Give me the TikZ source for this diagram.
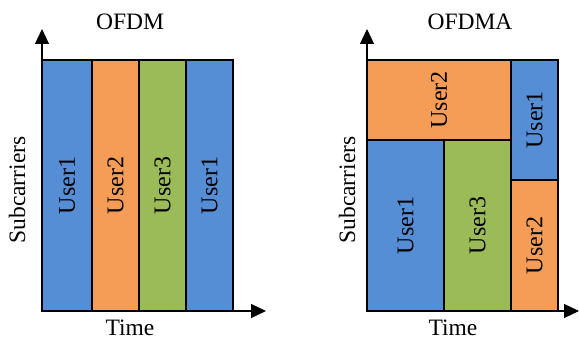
\documentclass[tikz,border=0pt]{standalone}
\usepackage{fontspec}
\setmainfont{Liberation Serif}
\usetikzlibrary{arrows.meta}
\definecolor{ublue}{HTML}{558ED5}
\definecolor{uorange}{HTML}{F59D56}
\definecolor{ugreen}{HTML}{9BBB59}
\tikzset{
  cell/.style={draw=black, line width=1.6pt, inner sep=0pt, font=\fontsize{24}{28}\selectfont},
  axis/.style={line width=1.2pt, -{Triangle[length=15pt,width=14pt]}},
  lbl/.style={inner sep=0pt, font=\fontsize{23.5}{27}\selectfont}
}
\begin{document}
\begin{tikzpicture}[x=1pt,y=1pt]
\useasboundingbox (0,0) rectangle (579,340);
% ---- OFDM ----
\coordinate (o1) at (42,29);
\coordinate (y1) at (42,311);
\coordinate (x1) at (266,29);
\node[cell, fill=ublue, minimum width=50pt, minimum height=251pt] (a1) at (67,154.5) {\rotatebox{90}{User1}};
\node[cell, fill=uorange, minimum width=47pt, minimum height=251pt] (a2) at (115.5,154.5) {\rotatebox{90}{User2}};
\node[cell, fill=ugreen, minimum width=47pt, minimum height=251pt] (a3) at (162.5,154.5) {\rotatebox{90}{User3}};
\node[cell, fill=ublue, minimum width=47pt, minimum height=251pt] (a4) at (209.5,154.5) {\rotatebox{90}{User1}};
\draw[axis] (o1) -- (y1);
\draw[axis] (o1) -- (x1);
\node[lbl] (t1) at (130,318) {OFDM};
\node[lbl, rotate=90] (s1) at (17,150) {Subcarriers};
\node[lbl, anchor=base] (tm1) at (130,4.5) {Time};
% ---- OFDMA ----
\coordinate (o2) at (367,29);
\coordinate (y2) at (367,311);
\coordinate (x2) at (579,29);
\node[cell, fill=uorange, minimum width=144pt, minimum height=80pt] (b1) at (439,240) {\rotatebox{90}{User2}};
\node[cell, fill=ublue, minimum width=77pt, minimum height=171pt] (b2) at (405.5,114.5) {\rotatebox{90}{User1}};
\node[cell, fill=ugreen, minimum width=67pt, minimum height=171pt] (b3) at (477.5,114.5) {\rotatebox{90}{User3}};
\node[cell, fill=ublue, minimum width=47pt, minimum height=120pt] (b4) at (534.5,220) {\rotatebox{90}{User1}};
\node[cell, fill=uorange, minimum width=47pt, minimum height=131pt] (b5) at (534.5,94.5) {\rotatebox{90}{User2}};
\draw[axis] (o2) -- (y2);
\draw[axis] (o2) -- (x2);
\node[lbl] (t2) at (470,318) {OFDMA};
\node[lbl, rotate=90] (s2) at (347,150) {Subcarriers};
\node[lbl, anchor=base] (tm2) at (453,4.5) {Time};
\end{tikzpicture}
\end{document}
